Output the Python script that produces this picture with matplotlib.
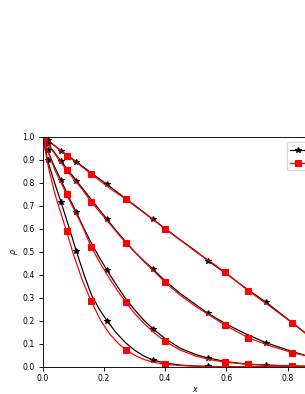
import matplotlib
matplotlib.use('Agg')
import matplotlib.pyplot as plt

# x grid of the black (star) curves
x_num = [0, 0.016, 0.035, 0.06, 0.085, 0.11, 0.135, 0.16, 0.185, 0.21, 0.24, 0.27, 0.30,
         0.33, 0.36, 0.40, 0.45, 0.50, 0.54, 0.60, 0.66, 0.73, 0.80, 0.86, 0.91, 1.0]
star_idx = [0, 1, 3, 5, 9, 14, 18, 21, 24, 25]

rho_num = [
    [1.0, 0.984, 0.965, 0.939, 0.915, 0.891, 0.866, 0.841, 0.817, 0.793, 0.762, 0.732, 0.702,
     0.672, 0.641, 0.601, 0.551, 0.503, 0.461, 0.404, 0.345, 0.280, 0.208, 0.145, 0.095, 0.0],
    [1.0, 0.97, 0.937, 0.893, 0.851, 0.809, 0.767, 0.725, 0.683, 0.641, 0.592, 0.545, 0.5,
     0.461, 0.425, 0.373, 0.318, 0.27, 0.232, 0.185, 0.145, 0.104, 0.073, 0.048, 0.032, 0.012],
    [1.0, 0.941, 0.88, 0.81, 0.738, 0.671, 0.60, 0.535, 0.475, 0.42, 0.357, 0.298, 0.248,
     0.203, 0.165, 0.122, 0.08, 0.053, 0.038, 0.022, 0.012, 0.007, 0.004, 0.002, 0.001, 0.0],
    [1.0, 0.897, 0.815, 0.715, 0.61, 0.503, 0.40, 0.31, 0.25, 0.2, 0.148, 0.105, 0.072,
     0.047, 0.029, 0.016, 0.007, 0.003, 0.001, 0.0, 0.0, 0.0, 0.0, 0.0, 0.0, 0.0],
]

# x grid of the red (square) curves
x_ref = [0, 0.02, 0.04, 0.078, 0.10, 0.13, 0.158, 0.19, 0.22, 0.25, 0.272, 0.30, 0.33,
         0.36, 0.40, 0.45, 0.50, 0.55, 0.596, 0.672, 0.74, 0.816, 0.90, 1.0]
square_idx = [0, 3, 6, 10, 14, 18, 19, 21, 23]

rho_ref = [
    [1.0, 0.98, 0.96, 0.918, 0.898, 0.868, 0.838, 0.805, 0.775, 0.748, 0.729, 0.70, 0.67,
     0.64, 0.599, 0.55, 0.50, 0.455, 0.411, 0.33, 0.265, 0.19, 0.1, 0.0],
    [1.0, 0.962, 0.925, 0.854, 0.818, 0.77, 0.717, 0.668, 0.62, 0.572, 0.539, 0.50, 0.458,
     0.42, 0.367, 0.31, 0.262, 0.22, 0.18, 0.126, 0.092, 0.061, 0.035, 0.012],
    [1.0, 0.925, 0.855, 0.75, 0.69, 0.61, 0.522, 0.445, 0.38, 0.32, 0.28, 0.232, 0.19,
     0.152, 0.11, 0.072, 0.046, 0.03, 0.02, 0.01, 0.006, 0.003, 0.001, 0.0],
    [1.0, 0.86, 0.75, 0.589, 0.49, 0.375, 0.286, 0.2, 0.14, 0.097, 0.074, 0.05, 0.032,
     0.02, 0.01, 0.005, 0.002, 0.001, 0.0, 0.0, 0.0, 0.0, 0.0, 0.0],
]

labels = ['numerical', 'analytical']

plt.rcParams['font.size'] = 7

dpi = 80
fig = plt.figure(figsize=(305 / dpi, 394 / dpi), dpi=dpi)
ax = fig.add_axes([42.7 / 305, 27.3 / 394, 306 / 305, 230 / 394])

for i in range(len(rho_num)):
    ax.plot(x_num, rho_num[i], '-*', color='k', lw=1.1, ms=5.5, markevery=star_idx,
            label=labels[0] if i == 0 else None)
    ax.plot(x_ref, rho_ref[i], '-s', color='red', lw=1.1, ms=6, markevery=square_idx,
            label=labels[1] if i == 0 else None)

ax.set_xlim(0, 1)
ax.set_ylim(0, 1)
ax.set_xticks([0, 0.2, 0.4, 0.6, 0.8, 1.0])
ax.set_yticks([i / 10 for i in range(11)])
ax.set_xlabel('$x$', labelpad=1)
ax.set_ylabel(r'$\rho$', labelpad=2)
ax.legend(loc='upper left', bbox_to_anchor=(0.7993, 0.9757), borderaxespad=0)

fig.savefig('out.png', dpi=dpi)
